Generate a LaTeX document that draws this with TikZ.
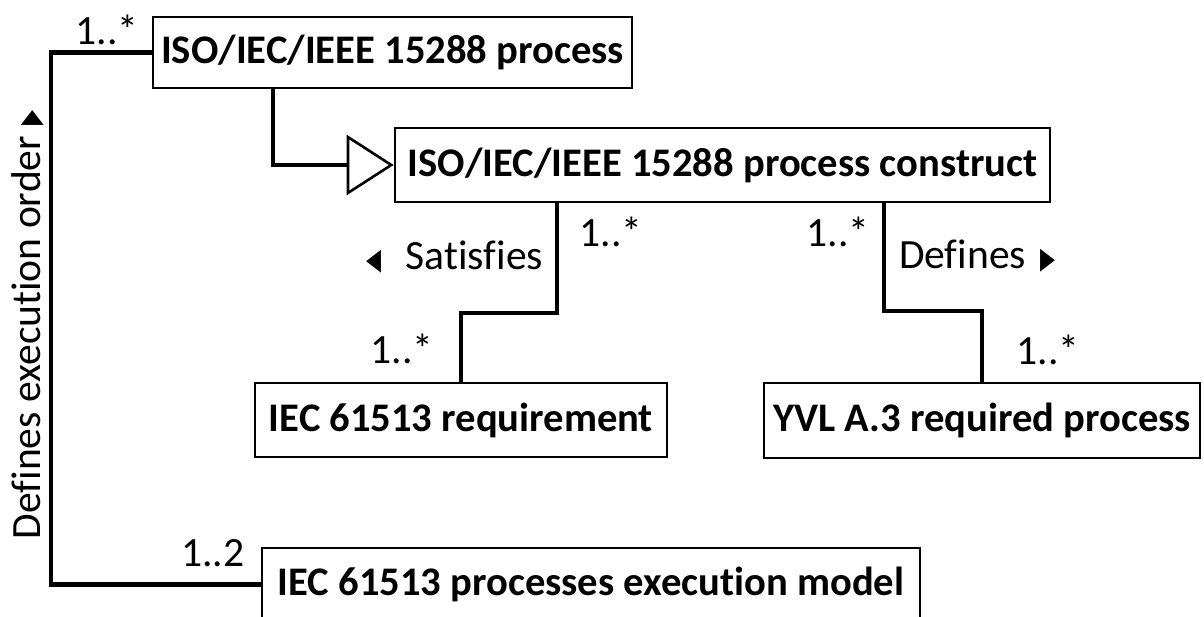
\documentclass[tikz,border=0pt]{standalone}
\usepackage{fontspec}
\setmainfont{Carlito}[Ligatures=NoCommon]
\newfontfamily\symfont{DejaVu Sans}
\usetikzlibrary{arrows.meta}

\newcommand{\dirright}{\scalebox{0.65}[1]{\fontsize{15}{15}\symfont ▶}}
\newcommand{\dirleft}{\scalebox{0.65}[1]{\fontsize{15}{15}\symfont ◀}}

\begin{document}
\begin{tikzpicture}[x=0.5pt,y=0.5pt,font=\fontsize{20.8}{24}\selectfont,
  classbox/.style={draw,line width=1.3pt,inner sep=0pt,font=\fontsize{20.3}{24}\selectfont\bfseries},
  assoc/.style={line width=2.1pt},
  gen/.style={assoc,-{Triangle[open,line width=1.3pt,length=23.5pt,width=30pt]}},
  mult/.style={inner sep=0pt}]
  \useasboundingbox (0,0) rectangle (1204,616);
  \node[classbox,minimum width=239.5pt,minimum height=35.5pt] (proc) at (392.5,563.5) {ISO/IEC/IEEE 15288 process};
  \node[classbox,minimum width=327.5pt,minimum height=37pt] (construct) at (722.5,451) {ISO/IEC/IEEE 15288 process construct};
  \node[classbox,minimum width=206pt,minimum height=37pt] (req) at (461,196) {IEC 61513 requirement};
  \node[classbox,minimum width=218pt,minimum height=37.5pt] (yvl) at (982,195.5) {YVL A.3 required process};
  \node[classbox,minimum width=329pt,minimum height=36.5pt] (model) at (591,31.5) {IEC 61513 processes execution model};

  \draw[assoc] (proc.west) -- ++(-101,0) |- (model.west);
  \draw[gen] ([xshift=60.5pt]proc.south west) |- (construct.west);
  \draw[assoc] ([xshift=81.5pt]construct.south west) -- ++(0,-110) -| (req.north);
  \draw[assoc] ([xshift=245pt]construct.south west) -- ++(0,-108) -| (yvl.north);

  \node[mult] (multProc) at (107,586) {1..*};
  \node[mult] (multModel) at (213,63) {1..2};
  \node[mult] (multSatTop) at (611,384) {1..*};
  \node[mult] (multSatReq) at (402,267) {1..*};
  \node[mult] (multDefTop) at (838,384) {1..*};
  \node[mult] (multDefYvl) at (1048,266) {1..*};

  \node[mult] (satisfies) at (455,359) {\dirleft\hspace{12pt}Satisfies};
  \node[mult] (defines) at (977,360) {Defines\hspace{7pt}\dirright};
  \node[mult,rotate=90] (execOrder) at (28,291) {Defines execution order\hspace{5pt}\dirright};
\end{tikzpicture}
\end{document}
